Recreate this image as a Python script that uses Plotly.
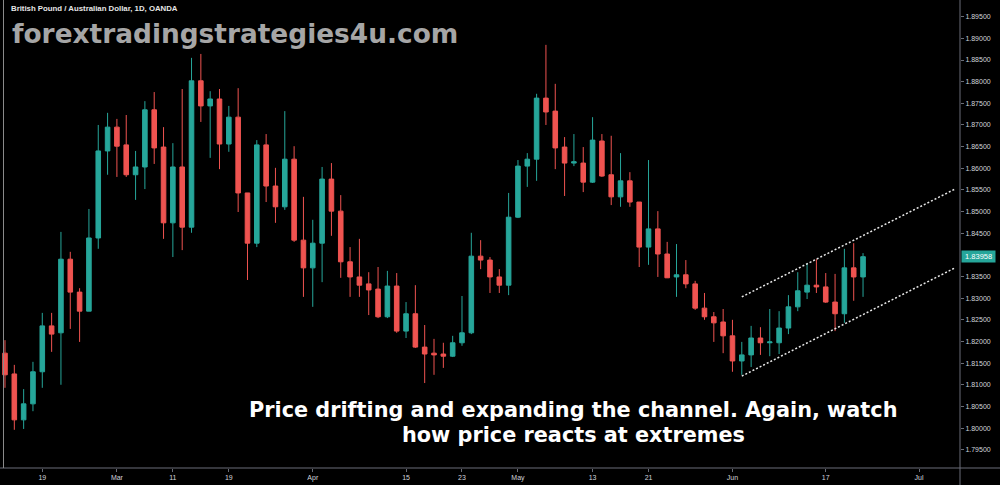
import plotly.graph_objects as go
import pandas as pd

# ---------------- data ----------------
dates = pd.bdate_range("2019-02-13", "2019-06-21")

opens = [
    1.8173, 1.8125, 1.8019, 1.8056, 1.8130, 1.8236, 1.8220, 1.8390, 1.8314, 1.8270,
    1.8439, 1.8640, 1.8695, 1.8654, 1.8585, 1.8603, 1.8735, 1.8649, 1.8474, 1.8603,
    1.8464, 1.8802, 1.8744, 1.8760, 1.8656, 1.8718, 1.8543, 1.8427, 1.8654, 1.8559,
    1.8511, 1.8621, 1.8434, 1.8370, 1.8427, 1.8575, 1.8501, 1.8384, 1.8349, 1.8333,
    1.8321, 1.8257, 1.8328, 1.8224, 1.8264, 1.8187, 1.8173, 1.8171, 1.8166, 1.8197,
    1.8220, 1.8397, 1.8388, 1.8349, 1.8330, 1.8487, 1.8605, 1.8621, 1.8762, 1.8732,
    1.8649, 1.8612, 1.8612, 1.8568, 1.8663, 1.8585, 1.8534, 1.8571, 1.8522, 1.8418,
    1.8460, 1.8402, 1.8349, 1.8354, 1.8333, 1.8277, 1.8257, 1.8245, 1.8213, 1.8155,
    1.8169, 1.8208, 1.8197, 1.8197, 1.8231, 1.8280, 1.8314, 1.8330, 1.8326, 1.8291,
    1.8264, 1.8370, 1.8349,
]
highs = [
    1.8203, 1.8146, 1.8090, 1.8153, 1.8266, 1.8266, 1.8453, 1.8407, 1.8323, 1.8506,
    1.8700, 1.8728, 1.8714, 1.8723, 1.8640, 1.8755, 1.8776, 1.8695, 1.8658, 1.8783,
    1.8855, 1.8864, 1.8778, 1.8783, 1.8744, 1.8785, 1.8543, 1.8665, 1.8679, 1.8601,
    1.8732, 1.8651, 1.8534, 1.8481, 1.8603, 1.8612, 1.8538, 1.8418, 1.8437, 1.8360,
    1.8372, 1.8363, 1.8358, 1.8291, 1.8330, 1.8238, 1.8206, 1.8197, 1.8213, 1.8305,
    1.8451, 1.8434, 1.8395, 1.8367, 1.8543, 1.8619, 1.8635, 1.8772, 1.8885, 1.8795,
    1.8672, 1.8679, 1.8649, 1.8718, 1.8679, 1.8675, 1.8635, 1.8591, 1.8522, 1.8619,
    1.8501, 1.8430, 1.8425, 1.8388, 1.8340, 1.8312, 1.8268, 1.8275, 1.8250, 1.8199,
    1.8236, 1.8233, 1.8275, 1.8270, 1.8307, 1.8360, 1.8381, 1.8390, 1.8358, 1.8356,
    1.8414, 1.8427, 1.8404,
]
lows = [
    1.8093, 1.7996, 1.7998, 1.8039, 1.8093, 1.8176, 1.8100, 1.8229, 1.8199, 1.8270,
    1.8414, 1.8585, 1.8580, 1.8580, 1.8527, 1.8552, 1.8610, 1.8437, 1.8395, 1.8411,
    1.8451, 1.8707, 1.8624, 1.8598, 1.8638, 1.8499, 1.8342, 1.8418, 1.8522, 1.8474,
    1.8504, 1.8430, 1.8303, 1.8280, 1.8337, 1.8444, 1.8347, 1.8303, 1.8303, 1.8261,
    1.8254, 1.8254, 1.8220, 1.8208, 1.8185, 1.8104, 1.8123, 1.8139, 1.8164, 1.8190,
    1.8217, 1.8367, 1.8312, 1.8312, 1.8307, 1.8485, 1.8557, 1.8571, 1.8700, 1.8598,
    1.8536, 1.8605, 1.8545, 1.8566, 1.8580, 1.8515, 1.8511, 1.8511, 1.8372, 1.8377,
    1.8349, 1.8347, 1.8303, 1.8323, 1.8273, 1.8250, 1.8199, 1.8173, 1.8130, 1.8123,
    1.8141, 1.8169, 1.8166, 1.8171, 1.8217, 1.8270, 1.8298, 1.8312, 1.8289, 1.8224,
    1.8243, 1.8294, 1.8303,
]
closes = [
    1.8123, 1.8019, 1.8056, 1.8130, 1.8236, 1.8217, 1.8390, 1.8314, 1.8270, 1.8439,
    1.8640, 1.8695, 1.8651, 1.8585, 1.8603, 1.8735, 1.8647, 1.8474, 1.8603, 1.8464,
    1.8802, 1.8744, 1.8760, 1.8656, 1.8718, 1.8543, 1.8427, 1.8654, 1.8559, 1.8511,
    1.8621, 1.8434, 1.8370, 1.8427, 1.8575, 1.8501, 1.8384, 1.8349, 1.8330, 1.8319,
    1.8257, 1.8328, 1.8224, 1.8264, 1.8187, 1.8171, 1.8169, 1.8166, 1.8197, 1.8220,
    1.8397, 1.8388, 1.8349, 1.8330, 1.8487, 1.8605, 1.8621, 1.8762, 1.8730, 1.8647,
    1.8612, 1.8615, 1.8568, 1.8665, 1.8582, 1.8534, 1.8571, 1.8522, 1.8418, 1.8460,
    1.8402, 1.8347, 1.8354, 1.8333, 1.8277, 1.8257, 1.8243, 1.8213, 1.8155, 1.8169,
    1.8208, 1.8197, 1.8199, 1.8231, 1.8280, 1.8317, 1.8330, 1.8326, 1.8291, 1.8264,
    1.8370, 1.8349, 1.83958,
]

# channel lines (dotted)
channel_x = ["2019-06-04", "2019-07-04 20:40"]
upper_channel = [1.8303, 1.8552]
lower_channel = [1.8120, 1.8370]

x_tickvals = ["2019-02-19", "2019-03-01", "2019-03-11", "2019-03-19", "2019-04-01",
              "2019-04-15", "2019-04-23", "2019-05-01", "2019-05-13", "2019-05-21",
              "2019-06-03", "2019-06-17", "2019-07-01"]
x_ticktext = ["19", "Mar", "11", "19", "Apr", "15", "23", "May", "13", "21",
              "Jun", "17", "Jul"]

y_tickvals = [1.795, 1.800, 1.805, 1.810, 1.815, 1.820, 1.825, 1.830, 1.835,
              1.845, 1.850, 1.855, 1.860, 1.865, 1.870, 1.875, 1.880, 1.885,
              1.890, 1.895]
y_ticktext = ["1.79500", "1.80000", "1.80500", "1.81000", "1.81500", "1.82000",
              "1.82500", "1.83000", "1.83500", "1.84500", "1.85000", "1.85500",
              "1.86000", "1.86500", "1.87000", "1.87500", "1.88000", "1.88500",
              "1.89000", "1.89500"]

last_price = closes[-1]

UP = "#26a69a"
DOWN = "#ef5350"
AXIS_TXT = "#d1d4dc"
AXIS_LINE = "#6a6d78"

W, H = 1000, 485
ML, MR, MT, MB = 0, 40, 0, 17
PW, PH = W - ML - MR, H - MT - MB

def px_y(py):
    return (PH - py) / PH

def px_x(px):
    return px / PW

fig = go.Figure()

fig.add_trace(go.Candlestick(
    x=dates, open=opens, high=highs, low=lows, close=closes,
    increasing=dict(line=dict(color=UP, width=1), fillcolor=UP),
    decreasing=dict(line=dict(color=DOWN, width=1), fillcolor=DOWN),
    whiskerwidth=0, showlegend=False, hoverinfo="skip",
))

for ys in (upper_channel, lower_channel):
    fig.add_trace(go.Scatter(
        x=channel_x, y=ys, mode="lines",
        line=dict(color="#e8e8e8", width=1.5, dash="2px,2px"),
        showlegend=False, hoverinfo="skip",
    ))

fig.update_layout(
    width=W, height=H,
    margin=dict(l=ML, r=MR, t=MT, b=MB, pad=0),
    paper_bgcolor="#000000", plot_bgcolor="#000000",
    showlegend=False,
    xaxis=dict(
        type="date",
        range=["2019-02-12 11:10", "2019-07-05 09:30"],
        rangebreaks=[dict(bounds=["sat", "mon"])],
        rangeslider=dict(visible=False),
        automargin=False,
        showgrid=False, zeroline=False, showline=False,
        tickmode="array", tickvals=x_tickvals, ticktext=x_ticktext,
        ticks="outside", ticklen=3, tickcolor=AXIS_LINE,
        tickfont=dict(family="Liberation Sans", size=7, color=AXIS_TXT),
    ),
    yaxis=dict(
        side="right",
        range=[1.79078, 1.89886],
        automargin=False,
        showgrid=False, zeroline=False, showline=False,
        tickmode="array", tickvals=y_tickvals, ticktext=y_ticktext,
        ticks="outside", ticklen=3, tickcolor=AXIS_LINE,
        tickfont=dict(family="Liberation Sans", size=7, color=AXIS_TXT),
    ),
    shapes=[
        dict(type="line", xref="paper", yref="paper", x0=0, x1=W / PW,
             y0=0, y1=0, line=dict(color=AXIS_LINE, width=1)),
        dict(type="line", xref="paper", yref="paper", x0=1, x1=1,
             y0=-MB / PH, y1=1, line=dict(color=AXIS_LINE, width=1)),
        dict(type="line", xref="paper", yref="paper", x0=px_x(3.5), x1=px_x(3.5),
             y0=0, y1=1, line=dict(color="#8a8a8a", width=1)),
    ],
    annotations=[
        dict(text="<b>British Pound / Australian Dollar, 1D, OANDA</b>",
             xref="paper", yref="paper", x=px_x(9), y=px_y(8),
             xanchor="left", yanchor="middle", showarrow=False,
             font=dict(family="Liberation Sans", size=7.8, color="#e6e6e6")),
        dict(text="<b>forextradingstrategies4u.com</b>",
             xref="paper", yref="paper", x=px_x(10), y=px_y(34),
             xanchor="left", yanchor="middle", showarrow=False,
             font=dict(family="DejaVu Sans", size=26.4, color="#a6a6a6")),
        dict(text="<b>Price drifting and expanding the channel. Again, watch</b>",
             xref="paper", yref="paper", x=px_x(572.5), y=px_y(410),
             xanchor="center", yanchor="middle", showarrow=False,
             font=dict(family="DejaVu Sans", size=20.8, color="#ffffff")),
        dict(text="<b>how price reacts at extremes</b>",
             xref="paper", yref="paper", x=px_x(573.5), y=px_y(435),
             xanchor="center", yanchor="middle", showarrow=False,
             font=dict(family="DejaVu Sans", size=20.8, color="#ffffff")),
        dict(text=f" {last_price:.5f} ",
             xref="paper", yref="y", x=1.0, y=last_price,
             xanchor="left", yanchor="middle", showarrow=False,
             bgcolor=UP, borderpad=1, xshift=1,
             font=dict(family="Liberation Sans", size=7.5, color="#ffffff")),
    ],
)

fig.write_html(
    "out.html",
    config={"displayModeBar": False},
    post_script="document.body.style.margin='0';document.body.style.background='#000';",
)
